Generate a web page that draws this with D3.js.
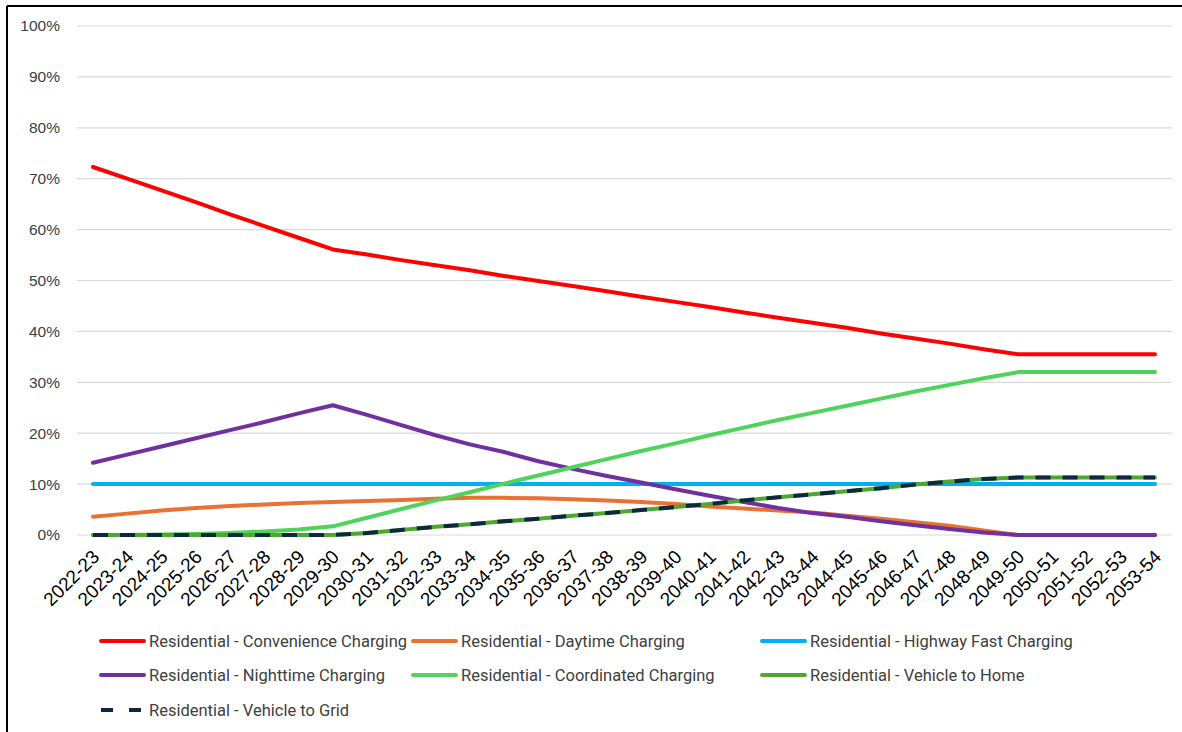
<!DOCTYPE html>
<html><head><meta charset="utf-8">
<script src="https://cdn.jsdelivr.net/npm/d3@7"></script>
<style>body{margin:0;background:#fff}svg{display:block}</style>
</head><body>
<svg id="chart" width="1182" height="732"></svg>
<script>
const categories = ["2022-23","2023-24","2024-25","2025-26","2026-27","2027-28","2028-29","2029-30","2030-31","2031-32","2032-33","2033-34","2034-35","2035-36","2036-37","2037-38","2038-39","2039-40","2040-41","2041-42","2042-43","2043-44","2044-45","2045-46","2046-47","2047-48","2048-49","2049-50","2050-51","2051-52","2052-53","2053-54"];
const yTicks = [0,10,20,30,40,50,60,70,80,90,100];

const convenience = [72.3,70.0,67.7,65.4,63.0,60.7,58.4,56.1,55.1,54.0,53.0,52.0,50.9,49.9,48.9,47.9,46.8,45.8,44.8,43.7,42.7,41.7,40.7,39.6,38.6,37.6,36.5,35.5,35.5,35.5,35.5,35.5];
const daytime = [3.6,4.2,4.8,5.3,5.7,6.0,6.3,6.5,6.7,6.9,7.1,7.3,7.3,7.2,7.0,6.8,6.5,6.1,5.6,5.2,4.8,4.4,3.8,3.2,2.5,1.8,0.9,0,0,0,0,0];
const highway = [10,10,10,10,10,10,10,10,10,10,10,10,10,10,10,10,10,10,10,10,10,10,10,10,10,10,10,10,10,10,10,10];
const nighttime = [14.2,15.8,17.4,19.0,20.6,22.2,23.9,25.5,23.6,21.6,19.6,17.8,16.3,14.5,13.0,11.6,10.3,9.0,7.7,6.5,5.3,4.3,3.6,2.7,1.9,1.2,0.5,0,0,0,0,0];
const coordinated = [0,0,0.1,0.2,0.4,0.7,1.1,1.7,3.4,5.1,6.8,8.4,10.1,11.7,13.3,14.9,16.5,18.0,19.6,21.1,22.6,24.0,25.4,26.8,28.2,29.5,30.8,32.0,32.0,32.0,32.0,32.0];
const vehicleToHome = [0,0,0,0,0,0,0,0,0.4,1.0,1.6,2.1,2.7,3.2,3.8,4.3,4.9,5.5,6.1,6.8,7.4,8.0,8.6,9.2,9.9,10.5,11.0,11.3,11.3,11.3,11.3,11.3];
const vehicleToGrid = [0,0,0,0,0,0,0,0,0.4,1.0,1.6,2.1,2.7,3.2,3.8,4.3,4.9,5.5,6.1,6.8,7.4,8.0,8.6,9.2,9.9,10.5,11.0,11.3,11.3,11.3,11.3,11.3];

const seriesNames = ["Residential - Convenience Charging","Residential - Daytime Charging","Residential - Highway Fast Charging","Residential - Nighttime Charging","Residential - Coordinated Charging","Residential - Vehicle to Home","Residential - Vehicle to Grid"];
const seriesValues = [convenience, daytime, highway, nighttime, coordinated, vehicleToHome, vehicleToGrid];
const seriesColors = ["#FF0000","#E97132","#00B0F0","#7030A0","#4FD35C","#4EA72E","#0E2841"];
const seriesDash = [null,null,null,null,null,null,"15,12"];

const svg = d3.select("#chart");
// border
svg.append("line").attr("x1",7).attr("x2",1182).attr("y1",6).attr("y2",6).attr("stroke","#000").attr("stroke-width",2);
svg.append("line").attr("x1",7).attr("x2",7).attr("y1",6).attr("y2",732).attr("stroke","#000").attr("stroke-width",2);

const x = d3.scalePoint().domain(categories).range([93,1155]);
const y = d3.scaleLinear().domain([0,100]).range([535,26]);

// gridlines
svg.append("g").selectAll("line").data(yTicks).join("line")
  .attr("x1",77).attr("x2",1172)
  .attr("y1",d=>y(d)).attr("y2",d=>y(d))
  .attr("stroke","#D9D9D9").attr("stroke-width",1.2);

// y axis labels
const yAxis = d3.axisLeft(y).tickValues(yTicks).tickFormat(d=>d+"%").tickSize(0).tickPadding(0);
const yg = svg.append("g").attr("transform","translate(60,0)").call(yAxis);
yg.select(".domain").remove();
yg.selectAll("text").attr("font-family","Liberation Sans, Arial, sans-serif").attr("font-size",15.5).attr("fill","#404040");

// x axis labels
const xAxis = d3.axisBottom(x).tickSize(0).tickPadding(0);
const xg = svg.append("g").attr("transform","translate(0,535)").call(xAxis);
xg.select(".domain").remove();
xg.selectAll("text")
  .attr("font-family","Liberation Sans, Arial, sans-serif").attr("font-size",19).attr("fill","#000")
  .attr("text-anchor","end").attr("dy",0)
  .attr("transform","translate(7,23) rotate(-45)");

// lines
const line = d3.line().x((d,i)=>x(categories[i])).y(d=>y(d));
seriesValues.forEach((vals,k)=>{
  svg.append("path").datum(vals).attr("d",line)
    .attr("fill","none").attr("stroke",seriesColors[k]).attr("stroke-width",4)
    .attr("stroke-linejoin","round").attr("stroke-linecap", seriesDash[k] ? "butt" : "round")
    .attr("stroke-dasharray",seriesDash[k]);
});

// legend
const legendPos = [[101,641],[413,641],[762,641],[101,675],[413,675],[762,675],[101,710]];
seriesNames.forEach((name,k)=>{
  const [lx,ly] = legendPos[k];
  const g = svg.append("g").attr("transform",`translate(${lx},${ly})`);
  g.append("line").attr("x1",0).attr("x2",43).attr("y1",0).attr("y2",0)
    .attr("stroke",seriesColors[k]).attr("stroke-width",4)
    .attr("stroke-linecap", seriesDash[k] ? "butt" : "round")
    .attr("stroke-dasharray", seriesDash[k] ? "12,16" : null);
  g.append("text").attr("x",48).attr("y",0).attr("dy","0.35em")
    .attr("font-family","Roboto, Noto Sans, sans-serif").attr("font-size",16.5).attr("fill","#404040")
    .text(name);
});
</script>
</body></html>
